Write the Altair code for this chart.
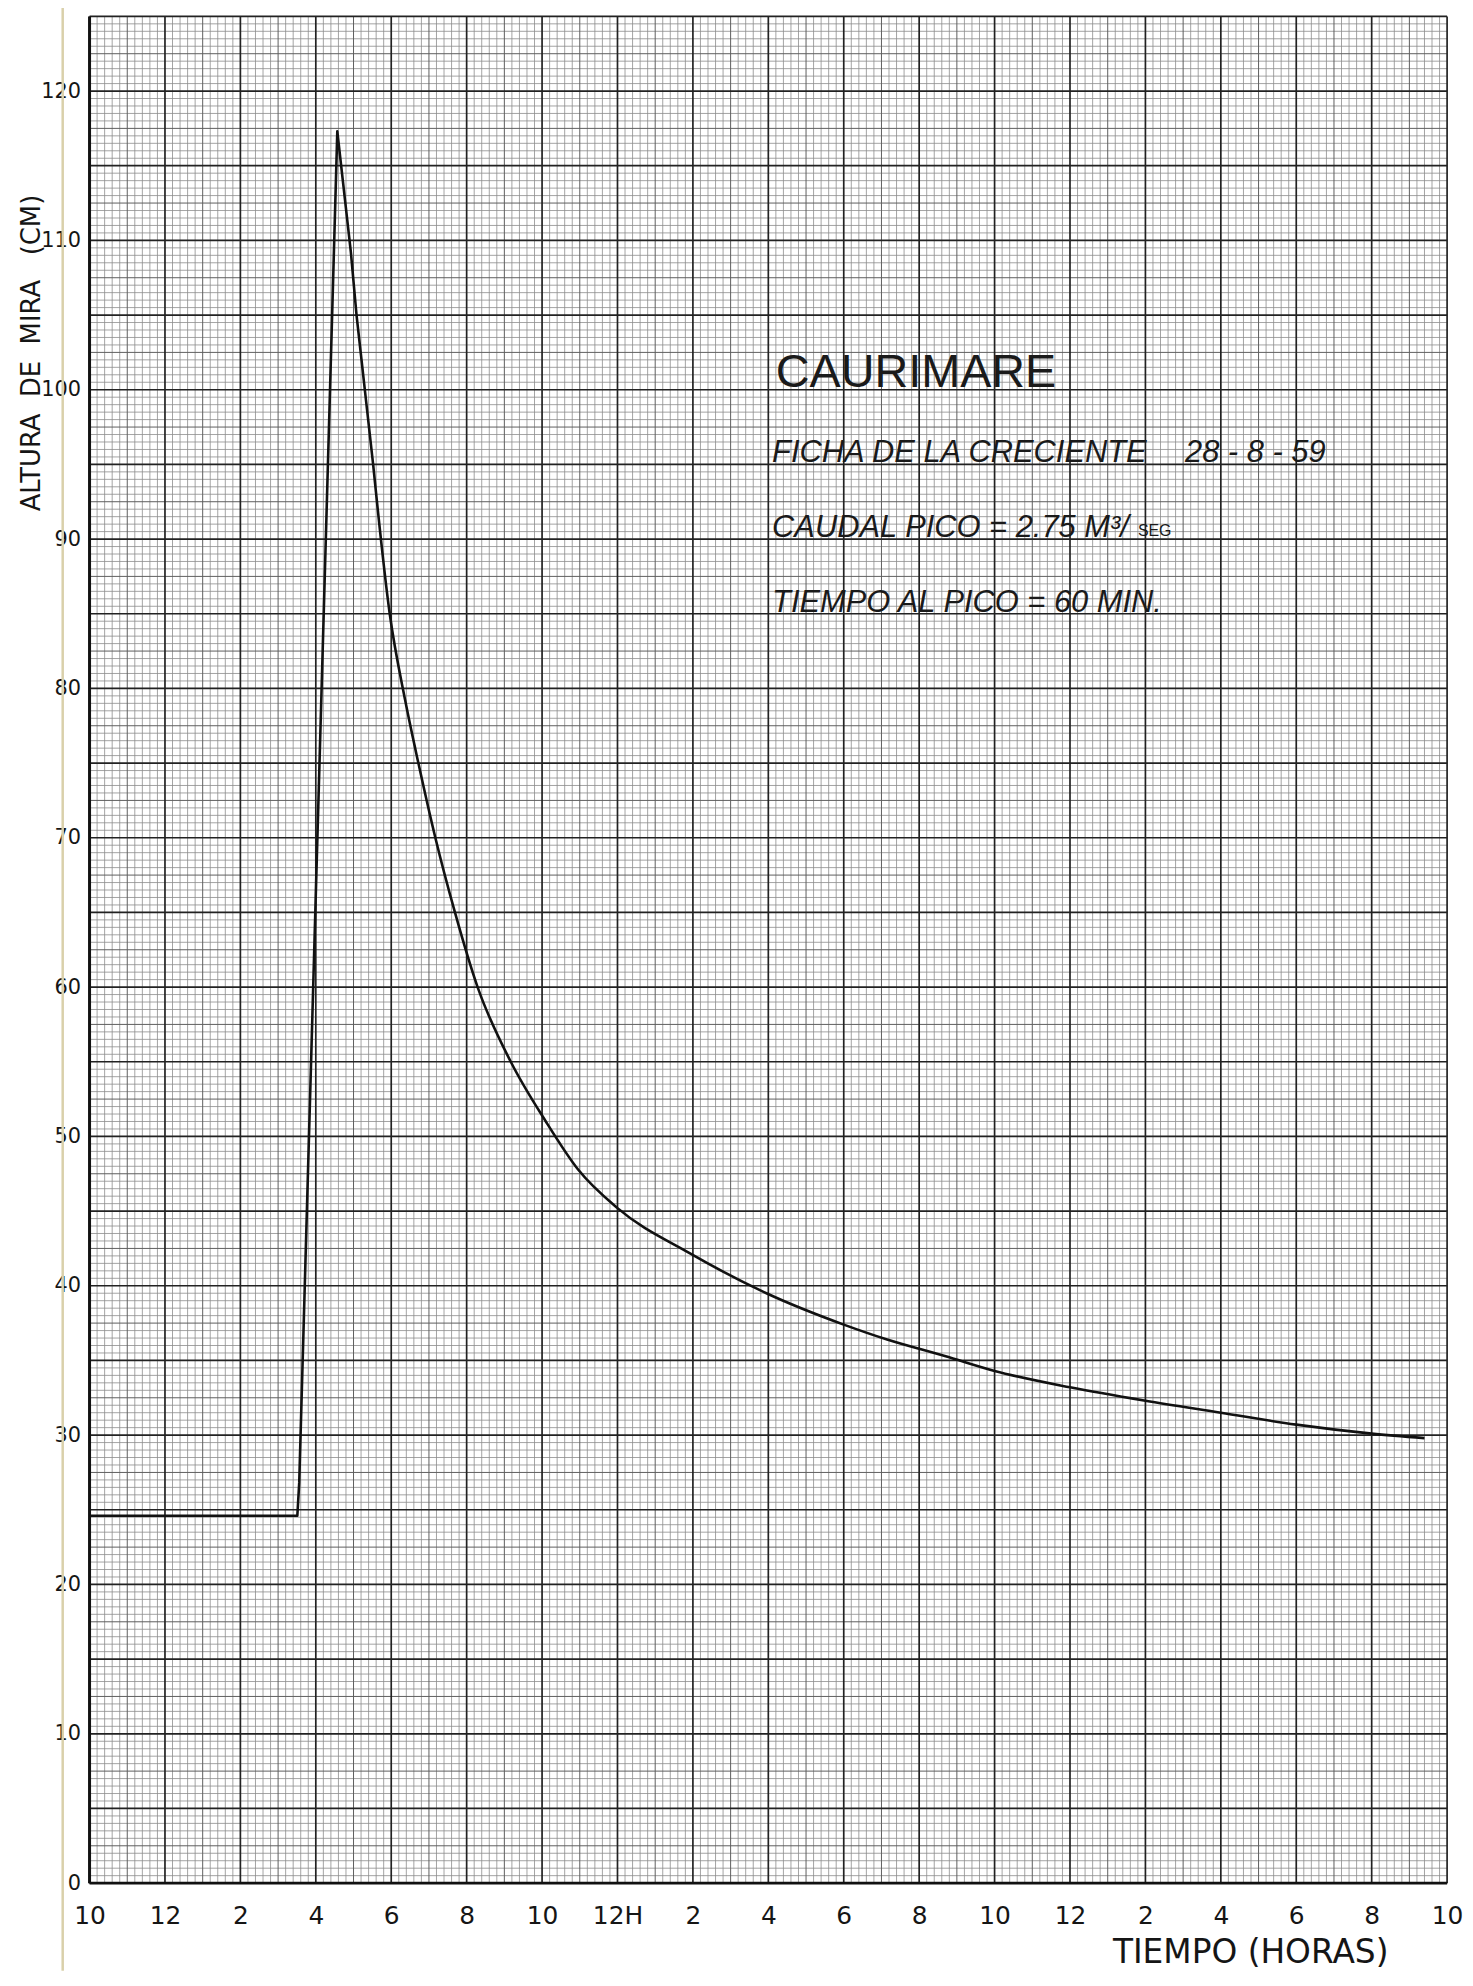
import altair as alt
import numpy as np
import pandas as pd

# ---------------- data ----------------
# hours counted from the first tick ("10") of the time axis
hours = [0, 5.51, 5.56, 6.57, 6.93, 7.08, 7.52, 7.96, 8.37, 8.72, 9.17, 9.69,
         10.29, 11.17, 12.10, 12.95, 14.0, 15.9, 17.95, 20.0, 21.15, 22.68,
         24.0, 26.0, 28.0, 30.0, 32.0, 34.0, 35.4]
altura = [24.6, 24.6, 26.8, 117.3, 109.2, 105.0, 95.0, 85.0, 79.2, 75.0, 70.0, 65.0,
          60.0, 55.0, 51.0, 47.8, 45.2, 42.2, 39.5, 37.4, 36.4, 35.3,
          34.3, 33.2, 32.3, 31.5, 30.7, 30.1, 29.8]
recession_start = 7.52   # from here on the hand-drawn curve is smooth

x_tick_hours = list(range(0, 37, 2))
x_tick_labels = ["10", "12", "2", "4", "6", "8", "10", "12H", "2", "4", "6", "8",
                 "10", "12", "2", "4", "6", "8", "10"]
y_tick_values = list(range(0, 121, 10))

X_DOMAIN = [0, 36]
Y_DOMAIN = [0, 125]

note_title = "CAURIMARE"
note_lines = ["FICHA DE LA CRECIENTE", "CAUDAL PICO = 2.75 M³/", "TIEMPO AL PICO = 60 MIN."]
note_date = "28 - 8 - 59"
note_unit = "SEG"

Y_TITLE = "ALTURA\u00a0\u00a0DE\u00a0\u00a0MIRA\u00a0\u00a0\u00a0(CM)"
X_TITLE = "TIEMPO (HORAS)"

# ---------------- chart ----------------
xs = alt.Scale(domain=X_DOMAIN, nice=False, zero=False)
ys = alt.Scale(domain=Y_DOMAIN, nice=False, zero=False)

label_expr = "[" + ",".join("'" + s + "'" for s in x_tick_labels) + "][round(datum.value/2)]"

x_axis = alt.Axis(
    values=x_tick_hours, labelExpr=label_expr, grid=False, ticks=False, domain=False,
    labelFontSize=25, labelFont="DejaVu Sans", labelColor="#151515", labelPadding=21,
    labelFlush=False, labelOverlap=False,
    title=X_TITLE, titleFont="DejaVu Sans", titleFontSize=33,
    titleFontWeight="normal", titleColor="#151515",
    titleX=1167, titleY=70, titleAlign="center", titleBaseline="middle")
y_axis = alt.Axis(
    values=y_tick_values, grid=False, ticks=False, domain=False,
    labelFontSize=21, labelFont="DejaVu Sans", labelColor="#151515", labelPadding=9,
    labelOverlap=False,
    title=Y_TITLE, titleFont="DejaVu Sans", titleFontSize=26, titleFontWeight="normal",
    titleColor="#151515", titleAngle=270, titleX=-58, titleY=338,
    titleAlign="center", titleBaseline="middle")

def X(f):
    return alt.X(f, type="quantitative", scale=xs, axis=x_axis, title=X_TITLE)

def Y(f):
    return alt.Y(f, type="quantitative", scale=ys, axis=y_axis, title=Y_TITLE)

# graph-paper grid
vx = np.round(np.arange(X_DOMAIN[0], X_DOMAIN[1] + 1e-9, 0.2), 2)
hy = np.round(np.arange(Y_DOMAIN[0], Y_DOMAIN[1] + 1e-9, 0.5), 2)

def kind_of(v, major, mid):
    if abs(v / major - round(v / major)) < 1e-6:
        return "major"
    if abs(v / mid - round(v / mid)) < 1e-6:
        return "mid"
    return "minor"

vg = pd.DataFrame({"x": vx, "kind": [kind_of(v, 2, 1) for v in vx]})
hg = pd.DataFrame({"y": hy, "kind": [kind_of(v, 5, 2.5) for v in hy]})

styles = {"minor": ("#8c8c8c", 0.8), "mid": ("#5e5e5e", 1.0), "major": ("#222222", 1.7)}

layers = []
for k in ["minor", "mid", "major"]:
    col, w = styles[k]
    layers.append(alt.Chart(vg[vg.kind == k]).mark_rule(color=col, strokeWidth=w)
                  .encode(x=X("x")))
    layers.append(alt.Chart(hg[hg.kind == k]).mark_rule(color=col, strokeWidth=w)
                  .encode(y=Y("y")))

# heavy frame (left & bottom axis lines)
layers.append(alt.Chart(pd.DataFrame({"x": [X_DOMAIN[0]]})).mark_rule(color="#111", strokeWidth=3)
              .encode(x=X("x")))
layers.append(alt.Chart(pd.DataFrame({"y": [Y_DOMAIN[0]]})).mark_rule(color="#111", strokeWidth=3)
              .encode(y=Y("y")))

# faint paper fold line left of the axis
layers.append(alt.Chart(pd.DataFrame({"a": [0]})).mark_rule(color="#d9d0aa", strokeWidth=2.5)
              .encode(x=alt.value(-27), y=alt.value(-11), y2=alt.value(1965)))

curve = pd.DataFrame({"h": hours, "a": altura})
rise = curve[curve.h <= recession_start]
recess = curve[curve.h >= recession_start]
layers.append(alt.Chart(rise).mark_line(color="#111", strokeWidth=2.6, strokeJoin="round")
              .encode(x=X("h"), y=Y("a")))
layers.append(alt.Chart(recess).mark_line(color="#111", strokeWidth=2.6, interpolate="monotone")
              .encode(x=X("h"), y=Y("a")))

# hand-lettered notes sitting on the major grid lines
title_df = pd.DataFrame({"x": [18.2], "y": [100], "t": [note_title]})
lines_df = pd.DataFrame({"x": [18.1, 18.1, 18.1], "y": [95, 90, 85], "t": note_lines})
date_df = pd.DataFrame({"x": [29.05], "y": [95], "t": [note_date]})
unit_df = pd.DataFrame({"x": [27.8], "y": [90], "t": [note_unit]})

enc = dict(x=X("x"), y=Y("y"), text="t:N")
layers.append(alt.Chart(title_df).mark_text(
    align="left", baseline="alphabetic", dy=-3, font="Liberation Sans",
    fontSize=47, color="#1a1a1a").encode(**enc))
layers.append(alt.Chart(lines_df).mark_text(
    align="left", baseline="alphabetic", dy=-2, font="Liberation Sans",
    fontStyle="italic", fontSize=31, color="#1a1a1a").encode(**enc))
layers.append(alt.Chart(date_df).mark_text(
    align="left", baseline="alphabetic", dy=-2, font="Liberation Sans",
    fontStyle="italic", fontSize=31, color="#1a1a1a").encode(**enc))
layers.append(alt.Chart(unit_df).mark_text(
    align="left", baseline="alphabetic", dy=-3, font="Liberation Sans",
    fontSize=16, color="#1a1a1a").encode(**enc))

chart = alt.layer(*layers).properties(
    width=1365, height=1877,
    autosize=alt.AutoSizeParams(type="none"),
    padding={"left": 82, "top": 3, "right": 18, "bottom": 95},
    background="#ffffff",
).configure_view(stroke=None)

chart.save("out.html", embed_options={"renderer": "svg", "actions": False})
